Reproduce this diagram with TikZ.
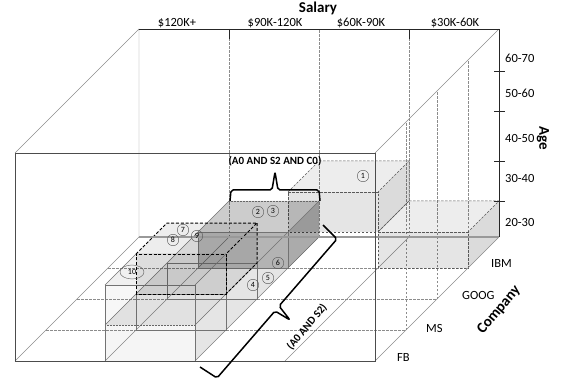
\documentclass[tikz,border=0pt]{standalone}
\usepackage{fontspec}
\setmainfont{Carlito}
\usepackage{tikz}
\usetikzlibrary{shapes.geometric}

\begin{document}
\begin{tikzpicture}[x=1pt, y=1pt, z={(31pt,31pt)},
  cubeline/.style={draw=black!70, line width=0.7pt},
  thinline/.style={draw=black!45, line width=0.4pt},
  gridline/.style={draw=black!45, line width=0.4pt, dash pattern=on 2.5pt off 1.5pt},
  cellline/.style={draw=black!55, line width=0.4pt},
  dotline/.style={draw=black!60, line width=0.5pt, dash pattern=on 0.6pt off 0.9pt},
  celldash/.style={draw=black!65, line width=0.5pt, dash pattern=on 2.5pt off 1.5pt},
  selbox/.style={draw=black, line width=1pt, dash pattern=on 3pt off 1.8pt},
  tint/.style={fill=black, fill opacity=#1},
  num/.style={circle, draw=black!65, line width=0.4pt, inner sep=0.5pt, minimum size=11.5pt, font=\fontsize{8}{9}\selectfont},
  numwide/.style={ellipse, draw=black!65, line width=0.4pt, inner sep=0.5pt, minimum width=24pt, minimum height=14pt, font=\fontsize{8}{9}\selectfont},
  axlabel/.style={font=\fontsize{12.5}{14}\selectfont, inner sep=1pt},
  axtitle/.style={font=\fontsize{15}{17}\selectfont\bfseries, inner sep=1pt},
  query/.style={font=\fontsize{11}{13}\selectfont\bfseries, inner sep=1pt},
  brace/.style={draw=black, line width=1.5pt, rounded corners=2pt, line join=round}]
\useasboundingbox (-15,-22) rectangle (549,361);

% grid on back wall, right wall and floor
\foreach \x in {90,180,270}
  \draw[gridline] (\x,0,4) -- (\x,208,4);
\foreach \z in {1,2,3} {
  \draw[gridline] (360,0,\z) -- (360,208,\z);
  \draw[gridline] (0,0,\z) -- (360,0,\z);
}
\foreach \x in {90,180,270}
  \draw[thinline] (\x,0,0) -- (\x,0,4);

% cell: 20-30, $30K-60K, IBM
\fill[tint=0.10] (270,0,3) rectangle (360,36,3);
\fill[tint=0.07] (270,36,3) -- (270,36,4) -- (360,36,4) -- (360,36,3) -- cycle;
\fill[tint=0.14] (360,0,3) -- (360,0,4) -- (360,36,4) -- (360,36,3) -- cycle;
\draw[celldash] (270,0,3) rectangle (360,36,3);
\draw[celldash] (270,36,3) -- (270,36,4) -- (360,36,4) -- (360,36,3);

% cell 1: 30-40, $60K-90K, IBM
\fill[tint=0.10] (180,36,3) rectangle (270,76,3);
\fill[tint=0.07] (180,76,3) -- (180,76,4) -- (270,76,4) -- (270,76,3) -- cycle;
\fill[tint=0.14] (270,36,3) -- (270,36,4) -- (270,76,4) -- (270,76,3) -- cycle;
\draw[celldash] (180,36,3) rectangle (270,76,3);
\draw[celldash] (180,76,3) -- (180,76,4) -- (270,76,4) -- (270,76,3);
\draw[celldash] (270,76,4) -- (270,36,4) -- (270,36,3);

% A0 AND S2: 20-30, $90K-120K, all companies
\fill[tint=0.04] (90,0,0) rectangle (180,36,0);
\fill[tint=0.09] (90,36,0) -- (90,36,3) -- (180,36,3) -- (180,36,0) -- cycle;
\fill[tint=0.10] (180,0,0) -- (180,0,3) -- (180,36,3) -- (180,36,0) -- cycle;
% A0 AND S2 AND C0
\fill[tint=0.22] (90,0,3) rectangle (180,36,3);
\fill[tint=0.20] (90,36,3) -- (90,36,4) -- (180,36,4) -- (180,36,3) -- cycle;
\fill[tint=0.33] (180,0,3) -- (180,0,4) -- (180,36,4) -- (180,36,3) -- cycle;
\foreach \z in {1,2,3}
  \draw[cellline] (90,0,\z) rectangle (180,36,\z);
\draw[cellline] (90,36,0) -- (90,36,4);
\draw[cellline] (180,36,0) -- (180,36,4) -- (180,0,4);
\draw[dotline] (90,36,4) -- (180,36,4);
\draw[dotline] (90,0,0) rectangle (180,36,0);

% cell 10: 20-40, $90K-120K, FB
\fill[tint=0.03] (90,36,0) rectangle (180,76,0);
\fill[tint=0.06] (90,76,0) -- (90,76,1) -- (180,76,1) -- (180,76,0) -- cycle;
\fill[tint=0.04] (180,36,0) -- (180,36,1) -- (180,76,1) -- (180,76,0) -- cycle;
\draw[cellline] (90,0,0) rectangle (180,76,0);
\draw[cellline] (90,76,0) -- (90,76,1) -- (180,76,1) -- (180,76,0);
\draw[cellline] (180,76,1) -- (180,0,1);

% cells 7, 8, 9: 30-40, $90K-120K, MS
\fill[tint=0.08] (90,36,1) rectangle (180,76,1);
\fill[tint=0.07] (90,76,1) -- (90,76,2) -- (180,76,2) -- (180,76,1) -- cycle;
\fill[tint=0.08] (180,36,1) -- (180,36,2) -- (180,76,2) -- (180,76,1) -- cycle;
\draw[selbox] (90,36,1) rectangle (180,76,1);
\draw[selbox] (90,76,1) -- (90,76,2) -- (180,76,2) -- (180,76,1);
\draw[selbox] (180,76,2) -- (180,36,2) -- (180,36,1);

% cube
\draw[thinline] (0,208,0) -- (0,208,4) -- (0,0,4);
\draw[thinline] (0,0,0) -- (0,0,4);
\draw[thinline] (360,0,0) -- (360,0,4);
\draw[thinline] (360,208,0) -- (360,208,4);
\draw[draw=black!40, line width=1.4pt] (0,0,4) -- (360,0,4);
\draw[draw=black!85, line width=0.8pt] (0,208,4) -- (360,208,4) -- (360,0,4);
\draw[cubeline] (0,0,0) rectangle (360,208,0);
\foreach \x in {90,270}
  \draw[draw=black!85, line width=0.8pt] (\x,208,4) -- (\x,198,4);
\foreach \y in {36,76,126,166}
  \draw[draw=black!85, line width=0.8pt] ([xshift=-5pt]360,\y,4) -- ([xshift=6pt]360,\y,4);

% axes
\node[axtitle] (salary) at (303,353) {Salary};
\foreach \x/\t in {162/\$120K+, 260/\$90K-120K, 346/\$60K-90K, 440/\$30K-60K}
  \node[axlabel, anchor=south] at (\x,332) {\t};
\foreach \y/\t in {303/60-70, 268/50-60, 223/40-50, 183/30-40, 139/20-30}
  \node[axlabel, anchor=west] at (489,\y) {\t};
\node[axtitle, rotate=-90] (age) at (528,223) {Age};
\foreach \x/\y/\t in {381/4/FB, 410/33/MS, 446/66/GOOG, 475/98/IBM}
  \node[axlabel, anchor=west] at (\x,\y) {\t};
\node[axtitle, rotate=50] (company) at (484,51) {Company};

% records
\node[num] (n1) at (348,185) {1};
\node[num] (n2) at (243,149) {2};
\node[num] (n3) at (258,150) {3};
\node[num] (n4) at (238,76) {4};
\node[num] (n5) at (253,83) {5};
\node[num] (n6) at (263,98) {6};
\node[num] (n7) at (168,131) {7};
\node[num] (n8) at (158,121) {8};
\node[num] (n9) at (182,125) {9};
\node[numwide] (n10) at (117,89) {10};

% queries
\draw[brace] (215,160) -- (216,171) -- (257,171) -- (260,189) -- (263,171) -- (304,171) -- (305,160);
\node[query] (q1) at (260,200) {(A0 AND S2 AND C0)};
\draw[brace] (308,136) -- (322,122) -- (264,55) -- (275,41) -- (260,50) -- (202,-17) -- (185,-6);
\node[query, rotate=50] (q2) at (292,34) {(A0 AND S2)};
\end{tikzpicture}
\end{document}
